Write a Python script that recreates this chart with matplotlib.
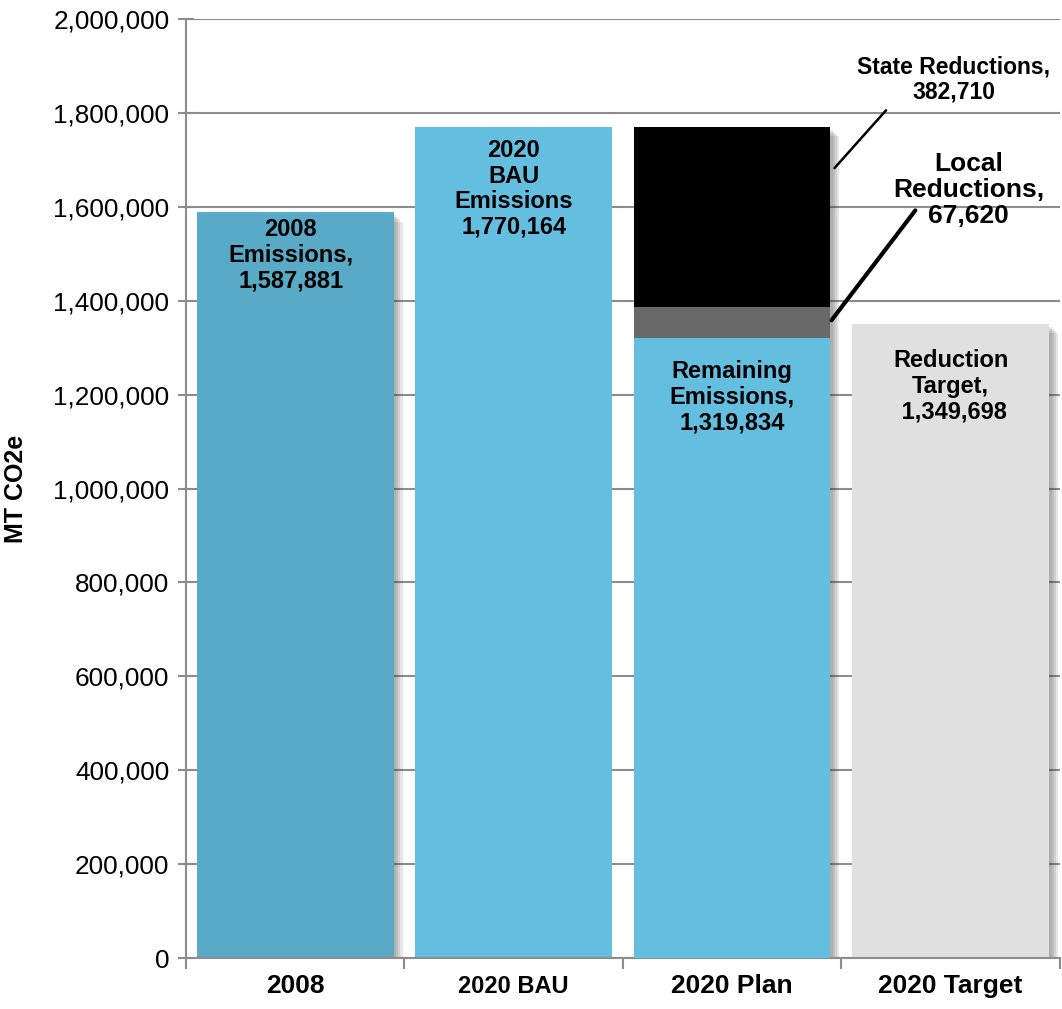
# 2020 emissions plan vs 2008 baseline, BAU and target

import matplotlib.pyplot as plt
import matplotlib.patheffects as pe
from matplotlib.ticker import FuncFormatter

plt.rcParams['font.family'] = ['Liberation Sans', 'DejaVu Sans']

# ------ Données ------

categories = ['2008', '2020 BAU', '2020 Plan', '2020 Target']
emissions_2008 = 1587881
bau_2020 = 1770164
remaining = 1319834
local_red = 67620
state_red = 382710
target_2020 = 1349698

C_2008 = '#58AAC6'
C_BLUE = '#63BEE0'
C_LOCAL = '#696969'
C_STATE = '#000000'
C_TARGET = '#E0E0E0'

W = 0.9
# ombre douce : plusieurs couches décalées
shadow = [pe.SimplePatchShadow(offset=(d, -d), shadow_rgbFace='#444444', alpha=0.13)
          for d in (2, 3.5, 5, 6.5)] + [pe.Normal()]

fig = plt.figure(figsize=(10.62, 10.09), dpi=100)
ax = fig.add_axes([0.1751, 0.0505, 0.8229, 0.9307])

ax.bar(0, emissions_2008, W, color=C_2008, zorder=2, path_effects=shadow)
ax.bar(1, bau_2020, W, color=C_BLUE, zorder=2)
ax.bar(2, remaining + local_red + state_red, W, color=C_STATE, zorder=2, path_effects=shadow)
ax.bar(2, remaining + local_red, W, color=C_LOCAL, zorder=3)
ax.bar(2, remaining, W, color=C_BLUE, zorder=3)
ax.bar(3, target_2020, W, color=C_TARGET, zorder=2, path_effects=shadow)

ax.set_xlim(-0.5, 3.5)
ax.set_ylim(0, 2000000)
ax.set_yticks(range(0, 2000001, 200000))
ax.yaxis.set_major_formatter(FuncFormatter(lambda v, p: f'{int(v):,}'))
ax.grid(axis='y', color='#8C8C8C', linewidth=1.5, zorder=0)
ax.set_axisbelow(True)

for s in ['top', 'right']:
    ax.spines[s].set_visible(False)
for s in ['left', 'bottom']:
    ax.spines[s].set_color('#8C8C8C')
    ax.spines[s].set_linewidth(1.5)

ax.tick_params(axis='y', direction='inout', length=12, width=1.5, color='#8C8C8C',
               labelsize=18.8, pad=6)
ax.set_xticks([-0.5, 0.5, 1.5, 2.5, 3.5])
ax.set_xticklabels([])
ax.tick_params(axis='x', direction='out', length=8, width=1.5, color='#8C8C8C')

# libellés des catégories
label_sizes = [19, 17, 19, 19]
for i, (cat, fs) in enumerate(zip(categories, label_sizes)):
    ax.text(i, -60000, cat, ha='center', va='center', fontsize=fs, fontweight='bold')

ax.set_ylabel('MT CO2e', fontsize=18, fontweight='bold', labelpad=18)

# étiquettes dans les barres
bold = dict(ha='center', va='center', fontsize=17, fontweight='bold', linespacing=1.15)
ax.text(-0.02, emissions_2008 - 91000, f'2008\nEmissions,\n{emissions_2008:,}', **bold)
ax.text(1.0, bau_2020 - 132000, f'2020\nBAU\nEmissions\n{bau_2020:,}', **bold)
ax.text(2.0, remaining - 125000, f'Remaining\nEmissions,\n{remaining:,}', **bold)
ax.text(3.0, target_2020 - 132000, f'Reduction\nTarget,\n {target_2020:,}', **bold)

# réductions avec traits de rappel
ax.annotate('', xy=(2.46, 1678000), xytext=(2.713, 1810000),
            arrowprops=dict(arrowstyle='-', color='black', lw=1.8))
ax.text(3.015, 1871000, f'State Reductions,\n{state_red:,}', ha='center', va='center',
        fontsize=16.5, fontweight='bold', linespacing=1.1)

ax.annotate('', xy=(2.447, remaining + local_red / 2), xytext=(2.846, 1597000),
            arrowprops=dict(arrowstyle='-', color='black', lw=3))
ax.text(3.083, 1636000, f'Local\nReductions,\n{local_red:,}', ha='center', va='center',
        fontsize=19, fontweight='bold', linespacing=1.12)

plt.savefig('out.png', dpi=100)
